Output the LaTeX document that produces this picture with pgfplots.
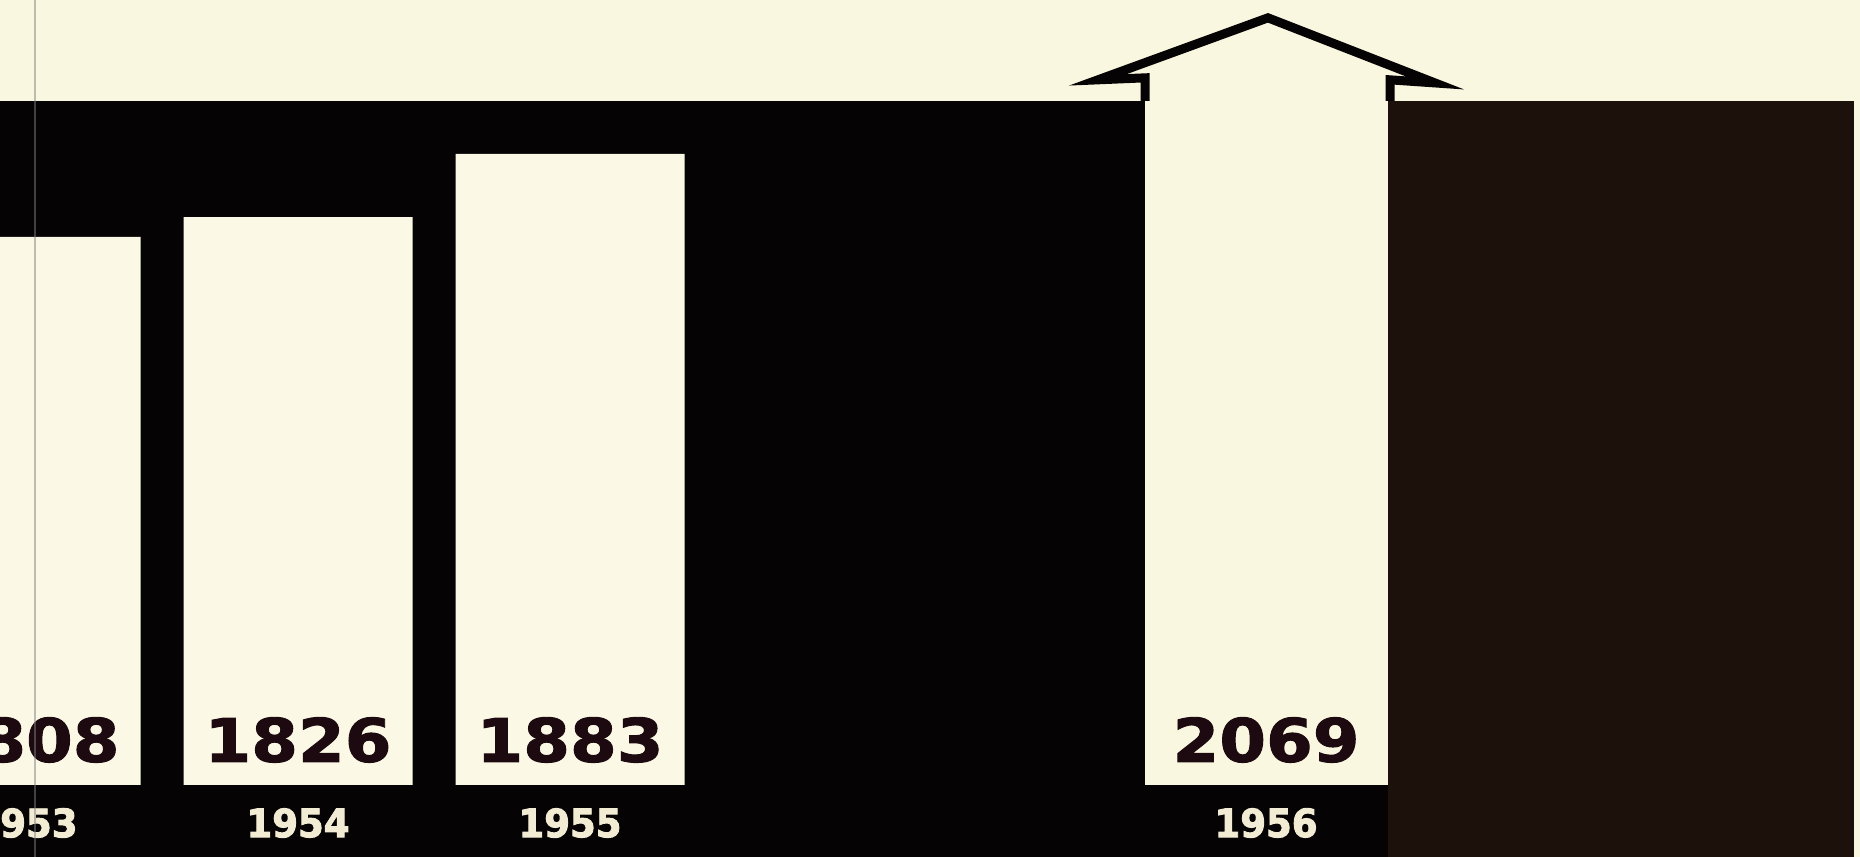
\documentclass[border=0pt]{standalone}
\usepackage{fontspec}
\usepackage{pgfplots}
\usepackage{pgfplotstable}
\pgfplotsset{compat=1.18}

\newfontfamily\valfont[FakeStretch=1.12, FakeBold=1.6]{DejaVu Sans}
\newfontfamily\yearfont[FakeStretch=0.95, FakeBold=2.4]{DejaVu Sans}

\definecolor{paper}{RGB}{250,247,224}
\definecolor{barcream}{RGB}{251,249,229}
\definecolor{ink}{RGB}{5,3,3}
\definecolor{darkbrown}{RGB}{29,18,11}
\definecolor{numink}{RGB}{28,10,16}
\definecolor{yearcol}{RGB}{243,236,212}

% cases per year
\pgfplotstableread{
x val
0 1808
1 1826
2 1883
}\bars

\begin{document}
\begin{tikzpicture}
  \useasboundingbox (0,0) rectangle (930pt,428.5pt);
  \clip (0,0) rectangle (930pt,428.5pt);
  % page and black band
  \fill[paper] (0,0) rectangle (930pt,428.5pt);
  \fill[ink] (0,0) rectangle (927pt,378pt);
  \fill[darkbrown] (694pt,0) rectangle (927pt,378pt);

  \begin{axis}[
    at={(0pt,36pt)}, anchor=south west,
    width=930pt, height=392.5pt,
    scale only axis,
    hide axis,
    xmin=-0.0956, xmax=6.7426,
    ymin=1313, ymax=2022,
    clip mode=individual,
  ]
    \addplot[ybar, bar width=114.5pt, bar shift=0pt, fill=barcream, draw=none]
      table[x=x, y=val] {\bars};
    \addplot[ybar, bar width=121.5pt, bar shift=0pt, fill=paper, draw=none]
      coordinates {(4.559,2069)};

    % arrow roof on the 1956 bar
    \addplot[sharp plot, draw=ink, line width=4.5pt, line join=miter, miter limit=20, mark=none]
      coordinates {(4.114,1930.9) (4.114,1951.7) (3.941,1949.9) (4.566,2005.9)
                   (5.180,1947.1) (5.015,1949.9) (5.015,1930.9)};

    % values
    \node[font={\valfont\bfseries\fontsize{30pt}{36pt}\selectfont}, text=numink] at (axis cs:0,1353.7) {1808};
    \node[font={\valfont\bfseries\fontsize{30pt}{36pt}\selectfont}, text=numink] at (axis cs:1,1353.7) {1826};
    \node[font={\valfont\bfseries\fontsize{30pt}{36pt}\selectfont}, text=numink] at (axis cs:2,1353.7) {1883};
    \node[font={\valfont\bfseries\fontsize{30pt}{36pt}\selectfont}, text=numink] at (axis cs:4.559,1353.7) {2069};

    % years
    \node[font={\yearfont\bfseries\fontsize{19.5pt}{23pt}\selectfont}, text=yearcol] at (axis cs:0,1278.7) {1953};
    \node[font={\yearfont\bfseries\fontsize{19.5pt}{23pt}\selectfont}, text=yearcol] at (axis cs:1,1278.7) {1954};
    \node[font={\yearfont\bfseries\fontsize{19.5pt}{23pt}\selectfont}, text=yearcol] at (axis cs:2,1278.7) {1955};
    \node[font={\yearfont\bfseries\fontsize{19.5pt}{23pt}\selectfont}, text=yearcol] at (axis cs:4.559,1278.7) {1956};
  \end{axis}

  % fold line at the left edge
  \draw[gray, opacity=0.5, line width=1pt] (17.5pt,0) -- (17.5pt,428.5pt);
\end{tikzpicture}
\end{document}
